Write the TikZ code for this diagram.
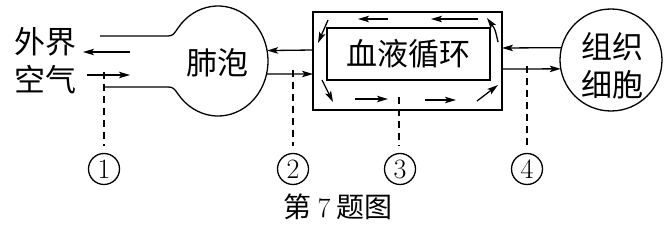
\documentclass[tikz,border=0pt]{standalone}
\usepackage{fontspec}
\newfontfamily\cjk{Noto Sans CJK SC}
\usetikzlibrary{arrows.meta,shapes.geometric}
\begin{document}
\begin{tikzpicture}[x=1pt,y=-1pt,line width=1.3pt,
  arr/.style={-{Stealth[length=11pt,width=6.5pt,inset=2.5pt]}},
  dsh/.style={dash pattern=on 7pt off 5pt,line width=1.2pt},
  lbl/.style={font=\cjk\fontsize{31}{38}\selectfont,inner sep=0pt,align=center},
  num/.style={circle,draw,minimum size=31pt,inner sep=0pt,outer sep=0pt,font=\fontsize{28}{28}\selectfont,line width=1.3pt}]
\useasboundingbox (0,0) rectangle (669,227);
% outside air
\node[lbl] (ext) at (45,61) {外界\\空气};
\coordinate (eo1) at (130,52);
\coordinate (eo2) at (83,52);
\coordinate (ei1) at (87,75);
\coordinate (ei2) at (130,75);
\draw[arr] (eo1) -- (eo2);
\draw[arr] (ei1) -- (ei2);
% alveolus
\node[ellipse,minimum width=100pt,minimum height=110pt,inner sep=0pt,outer sep=0pt] (lung) at (218,61) {};
\node[lbl] (lungt) at (217,63) {肺泡};
\draw (100,36) -- (168,36) .. controls (173,36) and (174.4,33.3) .. (178,28)
  arc[start angle=-143.13,end angle=143.13,x radius=50,y radius=55]
  .. controls (174.4,88.7) and (173,87) .. (168,87) -- (103,87);
% blood circulation
\node[draw,minimum width=189pt,minimum height=98pt,inner sep=0pt,outer sep=0pt] (blood) at (407.5,61) {};
\node[draw,minimum width=163pt,minimum height=52pt,inner sep=0pt,outer sep=0pt,font=\cjk\fontsize{31}{38}\selectfont] (inner) at (408.5,54) {血液循环};
% tissue cells
\node[draw,circle,minimum size=102pt,inner sep=0pt,outer sep=0pt] (cell) at (611,60) {};
\node[lbl] (cellt) at (612,66) {组织\\细胞};
% exchange arrows
\draw[arr] ([yshift=11pt]blood.west) -- (lung.12.7);
\draw[arr] (lung.-15) -- ([yshift=-13pt]blood.west);
\draw[arr] (cell.166.4) -- ([yshift=13pt]blood.east);
\draw[arr] ([yshift=-8pt]blood.east) -- (cell.190.2);
% circulation arrows
\draw[arr] (388,19) -- (358,19);
\draw[arr] (478,19) -- (431,19);
\draw[arr] (328,20) -- (318,43);
\draw[arr] (322,80) -- (333,102);
\draw[arr] (355,99) -- (388,99);
\draw[arr] (425,100) -- (456,100);
\draw[arr] (477,101) -- (498,85);
\draw[arr] (498,42) .. controls (495,29) .. (487,18);
% numbers
\node[num] (n1) at (104,169) {1};
\node[num] (n2) at (293,169) {2};
\node[num] (n3) at (400,169) {3};
\node[num] (n4) at (527,169) {4};
\coordinate (d1) at (104,72);
\coordinate (d2) at (293,70);
\coordinate (d3) at (399,97);
\coordinate (d4) at (527,66);
\draw[dsh] (d1) -- ([yshift=8pt]n1.north);
\draw[dsh] (d2) -- ([yshift=8pt]n2.north);
\draw[dsh] (d3) -- ([yshift=8pt]n3.north -| d3);
\draw[dsh] (d4) -- ([yshift=8pt]n4.north);
% caption
\node[font=\cjk\fontsize{28}{28}\selectfont,inner sep=0pt] (cap) at (338,207) {第 {\rmfamily 7} 题图};
\end{tikzpicture}
\end{document}
